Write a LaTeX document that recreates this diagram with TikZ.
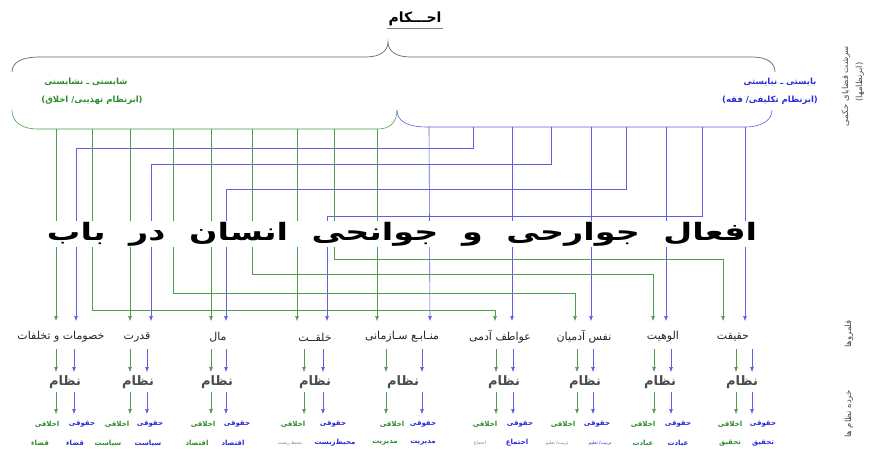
\documentclass[tikz,border=0pt]{standalone}
\usepackage{fontspec}
\newfontfamily\fa[Script=Arabic]{DejaVu Sans}
\TeXXeTstate=1
\usetikzlibrary{arrows.meta}
\definecolor{gtxt}{HTML}{2E8B2E}
\definecolor{btxt}{HTML}{2B2BD6}
\definecolor{gline}{HTML}{4E9E4E}
\definecolor{bline}{HTML}{5E5EE6}
\definecolor{gsmall}{HTML}{6E8E6E}
\newcommand{\fatxt}[1]{\beginR #1\endR}
\newcommand{\wgap}{\hspace{17pt}}
\begin{document}
\begin{tikzpicture}[x=1pt,y=-1pt,
  cat/.style={font=\fa\fontsize{11}{13}\selectfont, text=black!85, inner sep=1pt},
  nez/.style={font=\fa\bfseries\fontsize{13}{15}\selectfont, text=black!70, inner sep=1pt},
  gl/.style={font=\fa\bfseries\fontsize{7}{8}\selectfont, text=gtxt, inner sep=0.5pt},
  bl/.style={font=\fa\bfseries\fontsize{7}{8}\selectfont, text=btxt, inner sep=0.5pt},
  gls/.style={font=\fa\fontsize{4.5}{6}\selectfont, text=gsmall, inner sep=0.5pt},
  bls/.style={font=\fa\fontsize{4.5}{6}\selectfont, text=btxt, inner sep=0.5pt},
  gln/.style={draw=gline, line width=0.6pt},
  bln/.style={draw=bline, line width=0.6pt},
  garr/.style={gln, -{Latex[length=5pt,width=4pt]}},
  barr/.style={bln, -{Latex[length=5pt,width=4pt]}},
  uplab/.style={font=\fa\bfseries\fontsize{8.5}{10}\selectfont, inner sep=0.5pt},
  side/.style={font=\fa\fontsize{8.5}{10}\selectfont, text=black!70, inner sep=0.5pt}
]
\path[use as bounding box, fill=white] (0,0) rectangle (871,450);

% title and brace
\node[font=\fa\bfseries\fontsize{14}{16}\selectfont, inner sep=1pt] (title) at (415,19) {\fatxt{احـــکام}};
\draw[gray, line width=1.3pt] ([yshift=-1pt]title.south west) -- ([yshift=-1pt]title.south east);
\draw[black!60, line width=0.7pt] (12,72) .. controls (12,62) and (22,57) .. (40,57) -- (366,57)
  .. controls (380,57) and (388,51) .. (388,42) .. controls (388,51) and (396,57) .. (410,57)
  -- (752,57) .. controls (766,57) and (775,62) .. (775,72);

% upper labels
\node[uplab, text=gtxt] (gh) at (86,82) {\fatxt{شایستی ـ نشایستی}};
\node[uplab, text=gtxt] (gs) at (92,100) {\fatxt{(ابرنظام تهذیبی/ اخلاق)}};
\node[uplab, text=btxt] (bh) at (780,82) {\fatxt{بایستی ـ نبایستی}};
\node[uplab, text=btxt] (bs) at (770,100) {\fatxt{(ابرنظام تکلیفی/ فقه)}};

% side labels
\node[side, rotate=90] (s1) at (846,86) {\fatxt{سرشت قضایای حکمی}};
\node[side, rotate=90] (s2) at (860,82) {\fatxt{(ابرنظامها)}};
\node[side, rotate=90] (s3) at (849,334) {\fatxt{قلمروها}};
\node[side, rotate=90] (s4) at (849,414) {\fatxt{خرده نظام ها}};

% lower bracket
\draw[gln] (12,110) .. controls (12,122) and (22,129) .. (37,129) -- (378,129) .. controls (390,129) and (397,122) .. (397,110);
\draw[bln] (397,110) .. controls (397,121) and (407,127) .. (427,127) -- (745,127) .. controls (762,127) and (772,120) .. (772,110);

% taps (named by destination column)
\foreach \c/\x in {1/56,6/92,2/130,7/173,3/211,8/252,4/297,9/334,5/377}
  \coordinate (gt\c) at (\x,129);
\foreach \c/\x in {5/429,1/473,6/512,2/551,7/591,3/626,8/666,4/702,9/745}
  \coordinate (bt\c) at (\x,127);
% arrow ends above categories
\foreach \c/\g/\b in {1/56/76,2/130/151,3/211/226,4/297/327,5/377/430,6/495/512,7/575/591,8/653/666,9/723/745}{
  \coordinate (ge\c) at (\g,321);
  \coordinate (be\c) at (\b,321);
}
% corners
\coordinate (gh6) at (495,310);
\coordinate (gh7) at (575,293);
\coordinate (gh8) at (653,274);
\coordinate (gh9) at (723,259);
\coordinate (bh1) at (76,148);
\coordinate (bh2) at (151,164);
\coordinate (bh3) at (226,189);
\coordinate (bh4) at (327,216);

\draw[barr] (bt1) |- (bh1) -- (be1);
\draw[barr] (bt2) |- (bh2) -- (be2);
\draw[barr] (bt3) |- (bh3) -- (be3);
\draw[barr] (bt4) |- (bh4) -- (be4);
\draw[barr] (bt5) -- (be5);
\draw[barr] (bt6) -- (be6);
\draw[barr] (bt7) -- (be7);
\draw[barr] (bt8) -- (be8);
\draw[barr] (bt9) -- (be9);

\draw[garr] (gt1) -- (ge1);
\draw[garr] (gt2) -- (ge2);
\draw[garr] (gt3) -- (ge3);
\draw[garr] (gt4) -- (ge4);
\draw[garr] (gt5) -- (ge5);
\draw[garr] (gt6) |- (gh6) -- (ge6);
\draw[garr] (gt7) |- (gh7) -- (ge7);
\draw[garr] (gt8) |- (gh8) -- (ge8);
\draw[garr] (gt9) |- (gh9) -- (ge9);

% main text
\node[fill=white, inner sep=1pt, xscale=1.39, transform shape, font=\fa\bfseries\fontsize{24}{30}\selectfont] (main) at (402,234)
  {\fatxt{افعال\wgap جوارحی\wgap و\wgap جوانحی\wgap انسان\wgap در\wgap باب}};

% categories
\node[cat] (k1) at (61,337) {\fatxt{خصومات و تخلفات}};
\node[cat] (k2) at (137,337) {\fatxt{قدرت}};
\node[cat] (k3) at (218,337) {\fatxt{مال}};
\node[cat] (k4) at (315,337) {\fatxt{خلقــت}};
\node[cat] (k5) at (402,337) {\fatxt{منـابـع سـازمانی}};
\node[cat] (k6) at (500,337) {\fatxt{عواطف آدمی}};
\node[cat] (k7) at (584,337) {\fatxt{نفس آدمیان}};
\node[cat] (k8) at (663,337) {\fatxt{الوهیت}};
\node[cat] (k9) at (733,337) {\fatxt{حقیقت}};

% nezam
\foreach \c/\x in {1/65,2/138,3/217,4/315,5/403,6/504,7/585,8/660,9/742}
  \node[nez] (n\c) at (\x,382) {\fatxt{نظام}};

% lower arrows
\foreach \c/\g/\b in {1/56/74,2/130/147,3/211/226,4/304/323,5/386/422,6/496/513,7/577/593,8/654/671,9/736/752}{
  \coordinate (gu\c) at (\g,349); \coordinate (gv\c) at (\g,372);
  \coordinate (bu\c) at (\b,349); \coordinate (bv\c) at (\b,372);
  \coordinate (gw\c) at (\g,392); \coordinate (gz\c) at (\g,414);
  \coordinate (bw\c) at (\b,392); \coordinate (bz\c) at (\b,414);
  \draw[garr] (gu\c) -- (gv\c);
  \draw[barr] (bu\c) -- (bv\c);
  \draw[garr] (gw\c) -- (gz\c);
  \draw[barr] (bw\c) -- (bz\c);
}

% labels
\foreach \c/\g/\b in {1/47/82,2/117/150,3/203/237,4/293/333,5/392/423,6/485/520,7/563/597,8/643/678,9/730/763}{
  \node[gl] (la\c) at (\g,424) {\fatxt{اخلاقی}};
  \node[bl] (lb\c) at (\b,424) {\fatxt{حقوقی}};
}
\node[gl] (ma1) at (40,443) {\fatxt{قضاء}};
\node[bl] (mb1) at (75,443) {\fatxt{قضاء}};
\node[gl] (ma2) at (108,443) {\fatxt{سیاست}};
\node[bl] (mb2) at (148,443) {\fatxt{سیاست}};
\node[gl] (ma3) at (197,443) {\fatxt{اقتصاد}};
\node[bl] (mb3) at (233,443) {\fatxt{اقتصاد}};
\node[gls] (ma4) at (290,443) {\fatxt{محیط زیست}};
\node[bl] (mb4) at (335,443) {\fatxt{محیط^^^^200cزیست}};
\node[gl] (ma5) at (385,443) {\fatxt{مدیریت}};
\node[bl] (mb5) at (423,443) {\fatxt{مدیریت}};
\node[gls] (ma6) at (480,443) {\fatxt{اجتماع}};
\node[bl] (mb6) at (517,443) {\fatxt{اجتماع}};
\node[gls] (ma7) at (557,443) {\fatxt{تربیت/ تعلیم}};
\node[bls] (mb7) at (600,443) {\fatxt{تربیت/ تعلیم}};
\node[gl] (ma8) at (643,443) {\fatxt{عبادت}};
\node[bl] (mb8) at (678,443) {\fatxt{عبادت}};
\node[gl] (ma9) at (730,443) {\fatxt{تحقیق}};
\node[bl] (mb9) at (763,443) {\fatxt{تحقیق}};
\end{tikzpicture}
\end{document}
